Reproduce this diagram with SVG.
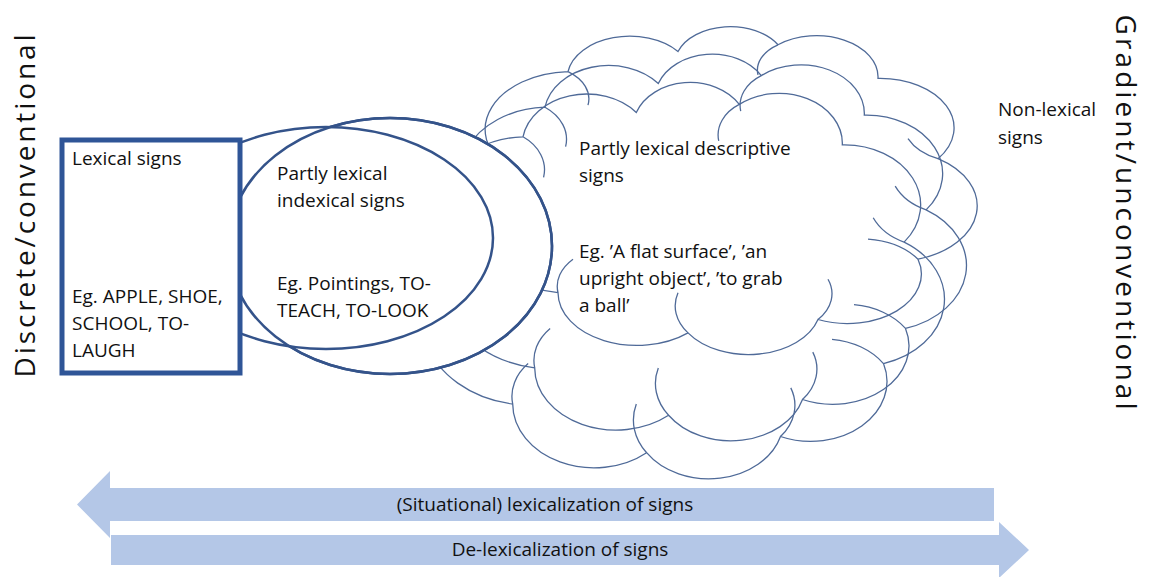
<svg xmlns="http://www.w3.org/2000/svg" xmlns:xlink="http://www.w3.org/1999/xlink" width="1151" height="577" viewBox="0 0 1151 577">
<style>
  .t { font-family: "Open Sans", "Liberation Sans", sans-serif; font-size: 19px; fill: #111; }
  .side { font-family: "Open Sans", "Liberation Sans", sans-serif; font-size: 28px; fill: #111; }
  .ell { fill: #fff; stroke: #34538a; stroke-width: 2.5; }
  .arrow { fill: #b4c7e7; }
</style>
<defs>
  <path id="cloud" fill="none" stroke="#4f6a98" stroke-width="1.3" vector-effect="non-scaling-stroke"
    d="M8,45 A17.3,17.3 0 0 1 20,16 A12.5,12.5 0 0 1 42,10 A11.1,11.1 0 0 1 62,8 A12.3,12.3 0 0 1 82,18 A14.8,14.8 0 0 1 94,42 A16.6,16.6 0 0 1 90,72 A14.8,14.8 0 0 1 70,90 A14.5,14.5 0 0 1 44,94 A15.8,15.8 0 0 1 18,82 A21.1,21.1 0 0 1 8,45 Z
       M44,94 A14,14 0 0 1 42,82 M70,90 A12,12 0 0 0 72,78 M90,72 A14,14 0 0 0 80,66 M94,42 A12,12 0 0 1 88,36 M20,16 A10,10 0 0 1 24,26 M62,8 A9,9 0 0 0 58,17 M18,82 A12,12 0 0 1 21,72"/>
</defs>

<g id="cloud-node">
  <use xlink:href="#cloud" transform="translate(420,72) scale(5.15,4.05)"/>
  <use xlink:href="#cloud" transform="translate(468,18) scale(5.0,3.35)"/>
  <use xlink:href="#cloud" transform="translate(442,44) scale(5.15,3.95)"/>
  <text class="t" x="579" y="155">Partly lexical descriptive</text>
  <text class="t" x="579" y="182">signs</text>
  <text class="t" x="579" y="258">Eg. ’A flat surface’, ’an</text>
  <text class="t" x="579" y="285">upright object’, ’to grab</text>
  <text class="t" x="579" y="312">a ball’</text>
</g>

<g id="indexical-node">
  <ellipse class="ell" cx="390" cy="246" rx="162" ry="128"/>
  <ellipse class="ell" cx="326" cy="238" rx="167" ry="111"/>
  <ellipse cx="390" cy="246" rx="162" ry="128" fill="none" stroke="#34538a" stroke-width="2.5"/>
  <text class="t" x="277" y="180">Partly lexical</text>
  <text class="t" x="277" y="207">indexical signs</text>
  <text class="t" x="277" y="290">Eg. Pointings, TO-</text>
  <text class="t" x="277" y="317">TEACH, TO-LOOK</text>
</g>

<g id="lexical-node">
  <rect x="62" y="140" width="178" height="233" fill="#fff" stroke="#2f5597" stroke-width="5"/>
  <text class="t" x="72" y="165">Lexical signs</text>
  <text class="t" x="72" y="303">Eg. APPLE, SHOE,</text>
  <text class="t" x="72" y="330">SCHOOL, TO-</text>
  <text class="t" x="72" y="357">LAUGH</text>
</g>

<g id="nonlexical-node">
  <text class="t" x="998" y="116">Non-lexical</text>
  <text class="t" x="998" y="144">signs</text>
</g>

<g id="connectors">
  <polygon class="arrow" points="77,504.5 110,471 110,488 994,488 994,521 110,521 110,538"/>
  <polygon class="arrow" points="111,535 999,535 999,522 1029,550 999,578 999,565 111,565"/>
  <text class="t" x="545" y="511" text-anchor="middle">(Situational) lexicalization of signs</text>
  <text class="t" x="560" y="556" text-anchor="middle">De-lexicalization of signs</text>
</g>

<g id="axis-labels">
  <text class="side" transform="translate(35,206) rotate(-90)" text-anchor="middle" textLength="343" lengthAdjust="spacing">Discrete/conventional</text>
  <text class="side" transform="translate(1116,212) rotate(90)" text-anchor="middle" textLength="395" lengthAdjust="spacing">Gradient/unconventional</text>
</g>
</svg>
